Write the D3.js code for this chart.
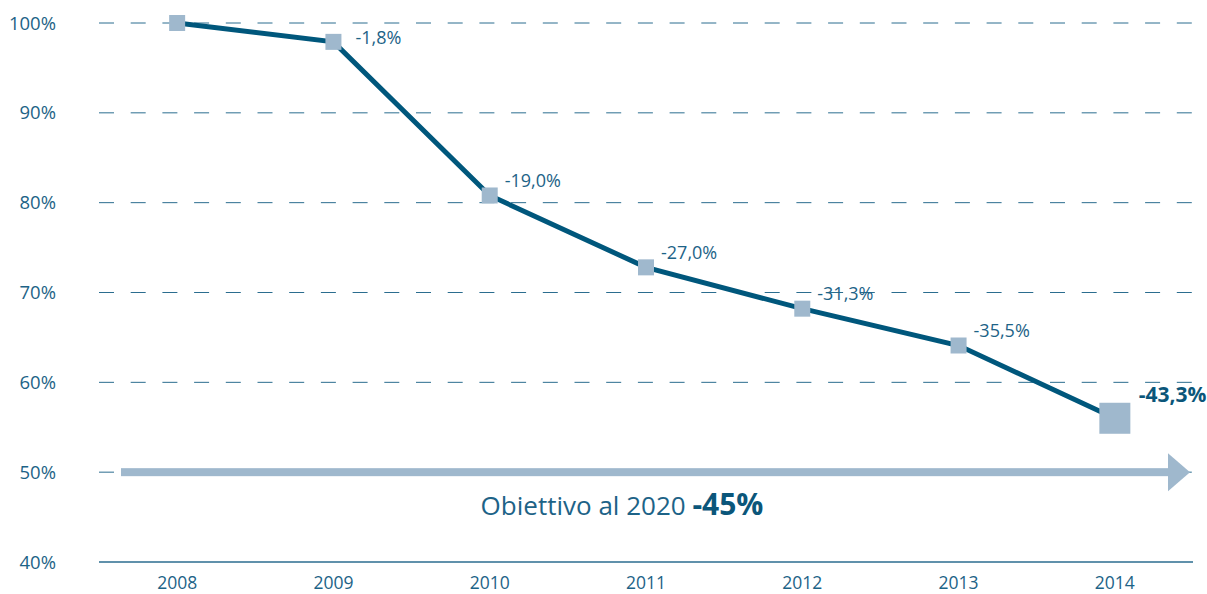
<!DOCTYPE html>
<html>
<head>
<meta charset="utf-8">
<script src="https://cdn.jsdelivr.net/npm/d3@7"></script>
<style>
  body { margin: 0; background: #fff; }
  svg text { font-family: "Open Sans", "Noto Sans", sans-serif; fill: #1d6387; }
</style>
</head>
<body>
<div id="chart"></div>
<script>
(function() {
  'use strict';

  var years = ['2008', '2009', '2010', '2011', '2012', '2013', '2014'];
  var values = [100, 97.9, 80.8, 72.8, 68.2, 64.1, 56.0];
  var labels = ['', '-1,8%', '-19,0%', '-27,0%', '-31,3%', '-35,5%', '-43,3%'];
  var yTicks = [40, 50, 60, 70, 80, 90, 100];
  var target = 50;
  var targetText = 'Obiettivo al 2020 ';
  var targetValue = '-45%';

  var width = 1207,
    height = 594,
    left = 99,
    right = 1193,
    top = 23,
    bottom = 562,
    lineColor = '#00577c',
    markColor = '#9fb8cd',
    gridColor = '#2b6d8f';

  var x = d3.scaleBand()
    .domain(years)
    .range([left, right]);

  var y = d3.scaleLinear()
    .domain([40, 100])
    .range([bottom, top]);

  var svg = d3.select('#chart')
    .append('svg')
    .attr('width', width)
    .attr('height', height);

  // grid
  svg.append('g')
    .selectAll('line')
    .data(yTicks.filter(function(d) { return d > 40; }))
    .enter().append('line')
    .attr('x1', left)
    .attr('x2', right)
    .attr('y1', function(d) { return y(d); })
    .attr('y2', function(d) { return y(d); })
    .attr('stroke', gridColor)
    .attr('stroke-width', 1)
    .attr('stroke-dasharray', '15,16.7');

  svg.append('line')
    .attr('x1', left)
    .attr('x2', right)
    .attr('y1', y(40))
    .attr('y2', y(40))
    .attr('stroke', gridColor)
    .attr('stroke-width', 1.5);

  // y labels
  svg.append('g')
    .selectAll('text')
    .data(yTicks)
    .enter().append('text')
    .attr('x', 56)
    .attr('y', function(d) { return y(d); })
    .attr('dy', '0.36em')
    .attr('text-anchor', 'end')
    .style('font-size', '18.5px')
    .text(function(d) { return d + '%'; });

  // x labels
  svg.append('g')
    .selectAll('text')
    .data(years)
    .enter().append('text')
    .attr('x', function(d) { return x(d) + x.bandwidth() / 2; })
    .attr('y', 589)
    .attr('text-anchor', 'middle')
    .style('font-size', '17.5px')
    .text(function(d) { return d; });

  // target arrow
  var ay = y(target);
  svg.append('rect')
    .attr('x', 121)
    .attr('y', ay - 4)
    .attr('width', 1170 - 121)
    .attr('height', 8)
    .attr('fill', markColor);
  svg.append('path')
    .attr('d', 'M1168,' + (ay - 19) + 'L1190,' + ay + 'L1168,' + (ay + 19) + 'Z')
    .attr('fill', markColor);

  var tt = svg.append('text')
    .attr('x', 622)
    .attr('y', 515)
    .attr('text-anchor', 'middle')
    .style('font-size', '26px');
  tt.append('tspan').text(targetText);
  tt.append('tspan')
    .style('font-weight', 'bold')
    .style('font-size', '30px')
    .style('fill', '#0b567a')
    .text(targetValue);

  // line
  var cx = function(i) { return x(years[i]) + x.bandwidth() / 2; };
  var line = d3.line()
    .x(function(d, i) { return cx(i); })
    .y(function(d) { return y(d); });

  svg.append('path')
    .datum(values)
    .attr('d', line)
    .attr('fill', 'none')
    .attr('stroke', lineColor)
    .attr('stroke-width', 5);

  var last = values.length - 1;
  var size = function(i) { return i === last ? 31 : 16; };
  svg.append('g')
    .selectAll('rect')
    .data(values)
    .enter().append('rect')
    .attr('x', function(d, i) { return cx(i) - size(i) / 2; })
    .attr('y', function(d, i) { return y(d) - size(i) / 2; })
    .attr('width', function(d, i) { return size(i); })
    .attr('height', function(d, i) { return size(i); })
    .attr('fill', markColor);

  // point labels
  svg.append('g')
    .selectAll('text')
    .data(labels)
    .enter().append('text')
    .attr('x', function(d, i) {
      if (i === 1) return cx(i) + 22;
      if (i === last) return cx(i) + 24;
      return cx(i) + 15;
    })
    .attr('y', function(d, i) {
      if (i === 1) return y(values[i]) - 4;
      if (i === last) return y(values[i]) - 24;
      return y(values[i]) - 15;
    })
    .attr('dy', '0.36em')
    .style('font-size', function(d, i) { return i === last ? '21px' : '18px'; })
    .style('font-weight', function(d, i) { return i === last ? 'bold' : 'normal'; })
    .style('fill', function(d, i) { return i === last ? '#0b567a' : null; })
    .text(function(d) { return d; });
})();
</script>
</body>
</html>
